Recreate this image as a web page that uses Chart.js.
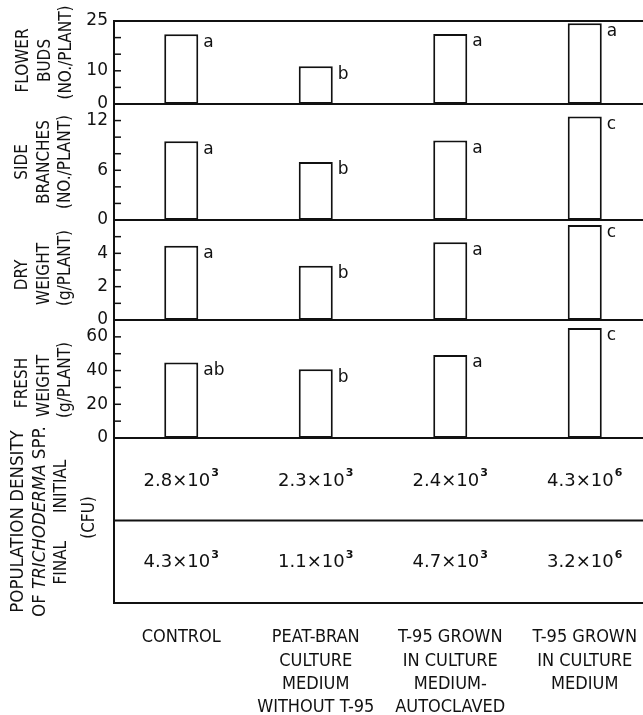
<!DOCTYPE html>
<html><head><meta charset="utf-8">
<script src="https://cdn.jsdelivr.net/npm/chart.js@4"></script>
<style>
html,body{margin:0;padding:0;background:#fff;overflow:hidden;width:643px;height:715px}
#wrap{position:absolute;left:0;top:0;width:652px;height:715px;overflow:visible}
#c{display:block;width:652px;height:715px}
</style></head><body><div id="wrap"><canvas id="c" width="652" height="715"></canvas></div>
<script>
// ---- data ----
const categories = [
  ['CONTROL'],
  ['PEAT-BRAN','CULTURE','MEDIUM','WITHOUT T-95'],
  ['T-95 GROWN','IN CULTURE','MEDIUM-','AUTOCLAVED'],
  ['T-95 GROWN','IN CULTURE','MEDIUM']
];
const flowerBuds = [21.0, 11.4, 21.1, 24.3];
const flowerLetters = ['a','b','a','a'];
const flowerTicks = [0,5,10,15,20,25];
const flowerLabels = [0,10,25];

const sideBranches = [9.5, 7.0, 9.6, 12.5];
const sideLetters = ['a','b','a','c'];
const sideTicks = [0,2,4,6,8,10,12,14];
const sideLabels = [0,6,12];

const dryWeight = [4.46, 3.26, 4.66, 5.7];
const dryLetters = ['a','b','a','c'];
const dryTicks = [0,1,2,3,4,5,6];
const dryLabels = [0,2,4];

const freshWeight = [44.8, 40.8, 49.3, 65.3];
const freshLetters = ['ab','b','a','c'];
const freshTicks = [0,10,20,30,40,50,60,70];
const freshLabels = [0,20,40,60];

const initialCFU = [2.8e3, 2.3e3, 2.4e3, 4.3e6];
const finalCFU = [4.3e3, 1.1e3, 4.7e3, 3.2e6];

// ---- chart ----
const INK = '#111111';
const FONT_C = '"DejaVu Sans Condensed", "DejaVu Sans", sans-serif';
const FONT = '"DejaVu Sans", sans-serif';

function yScale(weight, stackWeight, max, ticksAll, labels) {
  return {
    type: 'linear', position: 'left', stack: 'panels', stackWeight: stackWeight,
    weight: weight, min: 0, max: max,
    afterBuildTicks: sc => { sc.ticks = ticksAll.map(v => ({value: v})); },
    afterFit: sc => { sc.width = 114; },
    grid: {display: false, drawTicks: false},
    border: {display: false},
    ticks: {
      padding: 6, color: INK, autoSkip: false, font: {family: FONT, size: 17},
      callback: v => labels.includes(v) ? String(v) : ''
    }
  };
}

const panels = [
  {id: 'yFlower', data: flowerBuds, letters: flowerLetters},
  {id: 'ySide', data: sideBranches, letters: sideLetters},
  {id: 'yDry', data: dryWeight, letters: dryLetters},
  {id: 'yFresh', data: freshWeight, letters: freshLetters}
];

const axisTitles = {
  yFlower: [['FLOWER', 24, -2], ['BUDS', 46, -2], ['(NO./PLANT)', 67, -10]],
  ySide: [['SIDE', 23, 0], ['BRANCHES', 45, 0], ['(NO./PLANT)', 66, 0]],
  yDry: [['DRY', 23, 5], ['WEIGHT', 45, 4], ['(g/PLANT)', 66, -2]],
  yFresh: [['FRESH', 23, 4], ['WEIGHT', 45, 7], ['(g/PLANT)', 66, 1]]
};

function fmtSci(v) {
  const e = Math.floor(Math.log10(v) + 1e-9);
  const m = (v / Math.pow(10, e)).toFixed(1);
  return [m + '×10', String(e)];
}

const drawPlugin = {
  id: 'panelsDraw',
  afterDraw(chart) {
    const ctx = chart.ctx;
    const area = chart.chartArea;
    const L = area.left, R = area.right;
    ctx.save();
    ctx.strokeStyle = INK; ctx.fillStyle = INK;
    ctx.lineWidth = 2;
    // frames + inward ticks
    ['yFlower','ySide','yDry','yFresh','yTable'].forEach(id => {
      const sc = chart.scales[id];
      ctx.strokeRect(L, sc.top, R - L, sc.bottom - sc.top);
      if (id !== 'yTable') {
        ctx.lineWidth = 1.5;
        sc.ticks.forEach(t => {
          const y = sc.getPixelForValue(t.value);
          ctx.beginPath(); ctx.moveTo(L, y); ctx.lineTo(L + 7, y); ctx.stroke();
        });
        ctx.lineWidth = 2;
      }
    });
    // letters
    ctx.font = '17px ' + FONT;
    ctx.textAlign = 'left'; ctx.textBaseline = 'middle';
    panels.forEach((p, di) => {
      const meta = chart.getDatasetMeta(di);
      meta.data.forEach((el, i) => {
        ctx.fillText(p.letters[i], el.x + el.width / 2 + 5, el.y + 8);
      });
    });
    // table
    const tb = chart.scales.yTable;
    const xs = chart.scales.x;
    const yDiv = tb.getPixelForValue(1);
    ctx.beginPath(); ctx.moveTo(L, yDiv); ctx.lineTo(R, yDiv); ctx.stroke();
    const drawSci = (v, cx, cy) => {
      const [base, ex] = fmtSci(v);
      ctx.font = '18px ' + FONT;
      const wb = ctx.measureText(base).width;
      ctx.font = 'bold 11px ' + FONT;
      const we = ctx.measureText(ex).width;
      const x0 = cx - (wb + we + 1) / 2;
      ctx.textAlign = 'left'; ctx.textBaseline = 'middle';
      ctx.font = '18px ' + FONT;
      ctx.fillText(base, x0, cy);
      ctx.font = 'bold 11px ' + FONT;
      ctx.fillText(ex, x0 + wb + 1, cy - 8);
    };
    initialCFU.forEach((v, i) => drawSci(v, xs.getPixelForValue(i), tb.getPixelForValue(1.5) + 2));
    finalCFU.forEach((v, i) => drawSci(v, xs.getPixelForValue(i), tb.getPixelForValue(0.5) + 1));

    // rotated axis titles
    const rot = (text, x, y, font) => {
      ctx.save(); ctx.translate(x, y); ctx.rotate(-Math.PI / 2);
      ctx.font = font; ctx.textAlign = 'center'; ctx.textBaseline = 'middle';
      ctx.fillText(text, 0, 0); ctx.restore();
    };
    const tf = '17px ' + FONT_C;
    Object.keys(axisTitles).forEach(id => {
      const sc = chart.scales[id];
      const cy = (sc.top + sc.bottom) / 2;
      axisTitles[id].forEach(([t, x, dy]) => rot(t, x, cy + dy, tf));
    });
    const tcy = (tb.top + tb.bottom) / 2;
    rot('POPULATION DENSITY', 18, tcy + 1, '18.5px ' + FONT_C);
    // OF TRICHODERMA SPP. with italic genus
    ctx.save(); ctx.translate(40, tcy + 1); ctx.rotate(-Math.PI / 2);
    ctx.textBaseline = 'middle'; ctx.textAlign = 'left';
    const parts = [['OF ', '18.5px ' + FONT_C], ['TRICHODERMA', 'italic 18.5px ' + FONT_C], [' SPP.', '18.5px ' + FONT_C]];
    let tw = 0;
    parts.forEach(([t, f]) => { ctx.font = f; tw += ctx.measureText(t).width; });
    let px = -tw / 2;
    parts.forEach(([t, f]) => { ctx.font = f; ctx.fillText(t, px, 0); px += ctx.measureText(t).width; });
    ctx.restore();
    rot('INITIAL', 62, tb.getPixelForValue(1.5) + 7, '17px ' + FONT_C);
    rot('FINAL', 62, tb.getPixelForValue(0.5) + 1, '17px ' + FONT_C);
    rot('(CFU)', 90, tcy - 3, '17px ' + FONT_C);
    ctx.restore();
  }
};

const datasets = panels.map(p => ({
  data: p.data, yAxisID: p.id, xAxisID: 'x',
  backgroundColor: '#ffffff', borderColor: INK, borderWidth: 2,
  borderSkipped: false, grouped: false,
  barPercentage: 0.253, categoryPercentage: 1
}));

const scales = {
  x: {
    type: 'category', position: 'bottom', offset: true,
    grid: {display: false, drawTicks: true, tickLength: 22}, border: {display: false},
    afterFit: sc => { sc.height = 112; },
    ticks: {
      padding: 1, color: INK, autoSkip: false, maxRotation: 0, minRotation: 0,
      font: {family: FONT_C, size: 18, lineHeight: 1.29}
    }
  },
  yTable: {
    type: 'linear', position: 'left', stack: 'panels', stackWeight: 165, weight: 1,
    min: 0, max: 2, afterFit: sc => { sc.width = 114; },
    grid: {display: false, drawTicks: false}, border: {display: false},
    ticks: {display: false}
  },
  yFresh: yScale(2, 118, 70, freshTicks, freshLabels),
  yDry: yScale(3, 100, 6, dryTicks, dryLabels),
  ySide: yScale(4, 116, 14, sideTicks, sideLabels),
  yFlower: yScale(5, 83, 25, flowerTicks, flowerLabels)
};

new Chart(document.getElementById('c'), {
  type: 'bar',
  data: {labels: categories, datasets: datasets},
  options: {
    responsive: false, maintainAspectRatio: false, animation: false, devicePixelRatio: 1,
    layout: {padding: {top: 21, left: 0, right: 0, bottom: 0}},
    plugins: {legend: {display: false}, tooltip: {enabled: false}, title: {display: false}},
    scales: scales
  },
  plugins: [drawPlugin]
});
</script>
</body></html>
